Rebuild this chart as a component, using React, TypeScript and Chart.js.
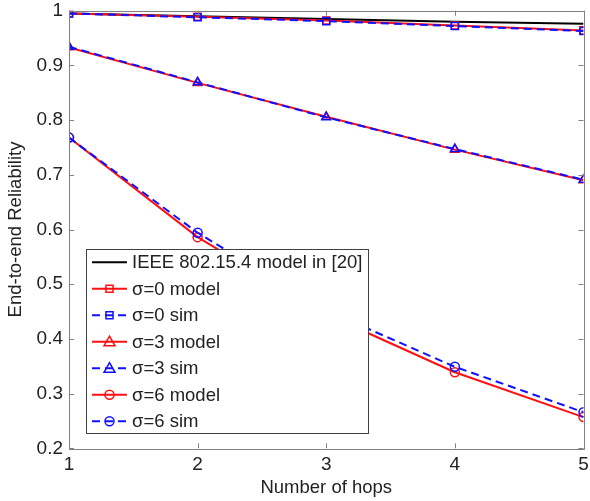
import React, { useEffect, useRef } from "react";
import { Chart, registerables } from "chart.js";

Chart.register(...registerables);

// Number of hops on the x axis
const hops = [1, 2, 3, 4, 5];

// End-to-end reliability per curve
const ieeeModel = [0.995, 0.99, 0.985, 0.98, 0.976];
const sigma0Model = [0.995, 0.989, 0.982, 0.973, 0.964];
const sigma0Sim = [0.995, 0.988, 0.981, 0.972, 0.963];
const sigma3Model = [0.933, 0.868, 0.806, 0.746, 0.69];
const sigma3Sim = [0.934, 0.869, 0.805, 0.747, 0.691];
const sigma6Model = [0.768, 0.586, 0.445, 0.339, 0.257];
const sigma6Sim = [0.768, 0.594, 0.452, 0.349, 0.266];

const seriesLabels = [
  "IEEE 802.15.4 model in [20]",
  "σ=0 model",
  "σ=0 sim",
  "σ=3 model",
  "σ=3 sim",
  "σ=6 model",
  "σ=6 sim",
];

const FONT = "'Liberation Sans', Arial, Helvetica, sans-serif";
const TEXT = "#222222";
const AXIS = "#808080";
const RED = "#ff1010";
const BLUE = "#1010ff";
const BLACK = "#000000";

type Style = "none" | "rect" | "triangle" | "circle";

function drawMarker(ctx: CanvasRenderingContext2D, style: Style, x: number, y: number, r: number) {
  ctx.beginPath();
  if (style === "rect") {
    const s = r * Math.SQRT1_2;
    ctx.rect(x - s, y - s, 2 * s, 2 * s);
  } else if (style === "triangle") {
    const h = r * 1.1;
    ctx.moveTo(x, y - h);
    ctx.lineTo(x + h, y + h * 0.75);
    ctx.lineTo(x - h, y + h * 0.75);
    ctx.closePath();
  } else if (style === "circle") {
    ctx.arc(x, y, r, 0, Math.PI * 2);
  } else {
    return;
  }
  ctx.stroke();
}

// Box with inward ticks on all four sides
const frameTicks = {
  id: "frameTicks",
  afterDraw(chart: any) {
    const { ctx, chartArea: a, scales } = chart;
    const len = 5;
    ctx.save();
    ctx.strokeStyle = AXIS;
    ctx.lineWidth = 1;
    ctx.beginPath();
    ctx.rect(Math.round(a.left) + 0.5, Math.round(a.top) + 0.5, Math.round(a.right - a.left), Math.round(a.bottom - a.top));
    ctx.stroke();
    ctx.beginPath();
    for (const t of scales.x.ticks) {
      const px = Math.round(scales.x.getPixelForValue(t.value)) + 0.5;
      ctx.moveTo(px, a.bottom);
      ctx.lineTo(px, a.bottom - len);
      ctx.moveTo(px, a.top);
      ctx.lineTo(px, a.top + len);
    }
    for (const t of scales.y.ticks) {
      const py = Math.round(scales.y.getPixelForValue(t.value)) + 0.5;
      ctx.moveTo(a.left, py);
      ctx.lineTo(a.left + len, py);
      ctx.moveTo(a.right, py);
      ctx.lineTo(a.right - len, py);
    }
    ctx.stroke();
    ctx.restore();
  },
};

// Legend box placed in the lower-left of the plot area
const insetLegend = {
  id: "insetLegend",
  afterDraw(chart: any) {
    const { ctx, chartArea: a } = chart;
    const left = a.left + 17;
    const top = a.top + 238.5;
    const w = 282;
    const h = 184;
    ctx.save();
    ctx.fillStyle = "#ffffff";
    ctx.fillRect(left, top, w, h);
    ctx.strokeStyle = "#404040";
    ctx.lineWidth = 1;
    ctx.strokeRect(Math.round(left) + 0.5, Math.round(top) + 0.5, w, h);
    chart.data.datasets.forEach((ds: any, i: number) => {
      const y = top + 13 + i * 26.5;
      const x0 = left + 6;
      const x1 = left + 41;
      ctx.strokeStyle = ds.borderColor;
      ctx.lineWidth = 2;
      ctx.setLineDash(ds.borderDash || []);
      ctx.beginPath();
      ctx.moveTo(x0, y);
      ctx.lineTo(x1, y);
      ctx.stroke();
      ctx.setLineDash([]);
      ctx.lineWidth = 1.5;
      drawMarker(ctx, ds.pointStyleName, (x0 + x1) / 2, y, ds.pointRadius);
      ctx.fillStyle = TEXT;
      ctx.font = `18.5px ${FONT}`;
      ctx.textAlign = "left";
      ctx.textBaseline = "middle";
      ctx.fillText(ds.label, left + 46, y + 1);
    });
    ctx.restore();
  },
};

// Lower `order` is drawn on top: simulation curves above model curves
function series(label: string, values: number[], color: string, dashed: boolean, marker: Style, order: number) {
  return {
    label,
    order,
    data: hops.map((h, i) => ({ x: h, y: values[i] })),
    borderColor: color,
    backgroundColor: "transparent",
    borderWidth: 2,
    borderDash: dashed ? [8, 5] : [],
    pointStyle: marker === "none" ? false : marker,
    pointStyleName: marker,
    pointRadius: marker === "none" ? 0 : marker === "rect" ? 5 : marker === "triangle" ? 5 : 4.5,
    pointBorderColor: color,
    pointBackgroundColor: "transparent",
    pointBorderWidth: 1.5,
    tension: 0,
  };
}

export default function App() {
  const ref = useRef<HTMLCanvasElement | null>(null);

  useEffect(() => {
    if (!ref.current) return;
    const chart = new Chart(ref.current, {
      type: "line",
      data: {
        datasets: [
          series(seriesLabels[0], ieeeModel, BLACK, false, "none", 2),
          series(seriesLabels[1], sigma0Model, RED, false, "rect", 1),
          series(seriesLabels[2], sigma0Sim, BLUE, true, "rect", 0),
          series(seriesLabels[3], sigma3Model, RED, false, "triangle", 1),
          series(seriesLabels[4], sigma3Sim, BLUE, true, "triangle", 0),
          series(seriesLabels[5], sigma6Model, RED, false, "circle", 1),
          series(seriesLabels[6], sigma6Sim, BLUE, true, "circle", 0),
        ] as any,
      },
      options: {
        animation: false,
        responsive: false,
        maintainAspectRatio: false,
        layout: { padding: { top: 10.7, right: 6, left: 0, bottom: 0 } },
        plugins: {
          legend: { display: false },
          tooltip: { enabled: false },
        },
        scales: {
          x: {
            type: "linear",
            min: 1,
            max: 5,
            afterFit: (s: any) => {
              s.height = 52.7;
              s.paddingLeft = 0;
              s.paddingRight = 0;
            },
            ticks: {
              stepSize: 1,
              padding: 5,
              color: TEXT,
              font: { family: FONT, size: 19 },
            },
            grid: { display: false, drawTicks: false },
            border: { display: false },
            title: {
              display: true,
              text: "Number of hops",
              color: TEXT,
              font: { family: FONT, size: 18.5 },
              padding: { top: 0, bottom: 2 },
            },
          },
          y: {
            type: "linear",
            min: 0.2,
            max: 1,
            afterFit: (s: any) => {
              s.width = 69;
              s.paddingTop = 0;
              s.paddingBottom = 0;
            },
            ticks: {
              stepSize: 0.1,
              padding: 6,
              color: TEXT,
              font: { family: FONT, size: 19 },
              callback: (v: any) => String(Math.round(Number(v) * 10) / 10),
            },
            grid: { display: false, drawTicks: false },
            border: { display: false },
            title: {
              display: true,
              text: "End-to-end Reliability",
              color: TEXT,
              font: { family: FONT, size: 18.5 },
              padding: { top: 5, bottom: 0 },
            },
          },
        },
      },
      plugins: [frameTicks, insetLegend],
    } as any);
    return () => chart.destroy();
  }, []);

  return (
    <div style={{ position: "fixed", left: 0, top: 0, width: 590, height: 501, background: "#fff" }}>
      <canvas ref={ref} width={590} height={501} style={{ width: 590, height: 501 }} />
    </div>
  );
}
